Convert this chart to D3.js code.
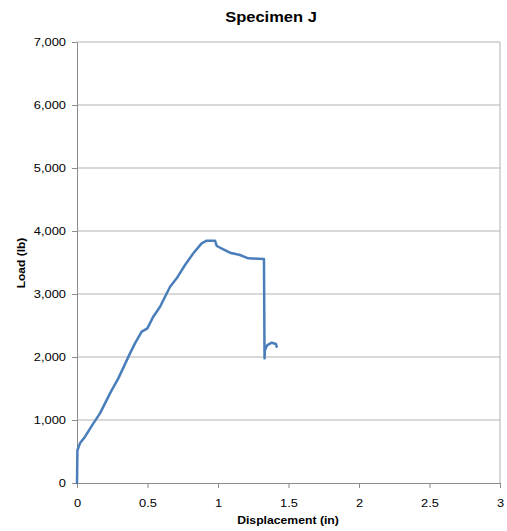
<!DOCTYPE html>
<html>
<head>
<meta charset="utf-8">
<script src="https://cdn.jsdelivr.net/npm/d3@7"></script>
<style>
  body { margin: 0; background: #fff; }
  svg { display: block; font-family: "Liberation Sans", Arial, sans-serif; }
</style>
</head>
<body>
<div id="chart"></div>
<script>
// Data
const displacement = [0, 0.003, 0.021, 0.057, 0.116, 0.163, 0.234, 0.293, 0.376, 0.411, 0.459, 0.499,
  0.541, 0.589, 0.660, 0.707, 0.766, 0.825, 0.884, 0.920, 0.979, 0.991, 1.038, 1.085, 1.156, 1.215,
  1.326, 1.330, 1.333, 1.350, 1.381, 1.411, 1.416];
const load = [0, 520, 630, 735, 947, 1106, 1423, 1661, 2058, 2217, 2402, 2455,
  2640, 2798, 3116, 3249, 3460, 3646, 3804, 3846, 3846, 3762, 3709, 3656, 3619, 3566,
  3556, 1979, 2111, 2190, 2227, 2206, 2164];
const xTicks = [0, 0.5, 1, 1.5, 2, 2.5, 3];
const yTicks = [0, 1000, 2000, 3000, 4000, 5000, 6000, 7000];

const width = 507;
const height = 531;
const margin = { top: 42, right: 7, bottom: 48, left: 77 };
const stretch = 1.17; // the reference text is a bit wider than plain Arial

const svg = d3.select("#chart")
  .append("svg")
  .attr("width", width)
  .attr("height", height);

const xScale = d3.scaleLinear().domain([0, 3]).range([margin.left, width - margin.right]);
const yScale = d3.scaleLinear().domain([0, 7000]).range([height - margin.bottom, margin.top]);

// gridlines
svg.append("g")
  .selectAll("line")
  .data(yTicks.slice(1))
  .join("line")
  .attr("x1", margin.left)
  .attr("x2", width - margin.right)
  .attr("y1", d => yScale(d))
  .attr("y2", d => yScale(d))
  .attr("stroke", "#b3b3b3")
  .attr("stroke-width", 1);

// right border
svg.append("line")
  .attr("x1", width - margin.right)
  .attr("x2", width - margin.right)
  .attr("y1", yScale(7000))
  .attr("y2", yScale(0))
  .attr("stroke", "#b3b3b3");

// axes
const xAxis = d3.axisBottom(xScale).tickValues(xTicks).tickSize(5).tickSizeOuter(0)
  .tickFormat(d => String(d));
const yAxis = d3.axisLeft(yScale).tickValues(yTicks).tickSize(5).tickSizeOuter(0)
  .tickFormat(d3.format(","));

const gx = svg.append("g")
  .attr("transform", `translate(0, ${yScale(0)})`)
  .call(xAxis);
const gy = svg.append("g")
  .attr("transform", `translate(${margin.left}, 0)`)
  .call(yAxis);

[gx, gy].forEach(g => {
  g.select(".domain").attr("stroke", "#8c8c8c");
  g.selectAll(".tick line").attr("stroke", "#8c8c8c");
  g.selectAll(".tick text")
    .attr("fill", "#000")
    .style("font-size", "11px")
    .style("font-family", "'Liberation Sans', Arial, sans-serif");
});
gx.selectAll(".tick text")
  .attr("y", 24)
  .attr("dy", 0)
  .attr("transform", `scale(${stretch},1)`);
gy.selectAll(".tick text")
  .attr("x", -11 / stretch)
  .attr("transform", `scale(${stretch},1)`);

// series line
const points = displacement.map((d, i) => [d, load[i]]);
const line = d3.line()
  .x(d => xScale(d[0]))
  .y(d => yScale(d[1]));

svg.append("path")
  .datum(points)
  .attr("fill", "none")
  .attr("stroke", "#4a7ebb")
  .attr("stroke-width", 2.5)
  .attr("stroke-linejoin", "round")
  .attr("stroke-linecap", "round")
  .attr("d", line);

// title
svg.append("text")
  .attr("transform", `translate(271, 22) scale(1.1,1)`)
  .attr("text-anchor", "middle")
  .style("font-size", "15px")
  .style("font-weight", "bold")
  .text("Specimen J");

// axis titles
svg.append("text")
  .attr("transform", `translate(288, 523.5) scale(1.11,1)`)
  .attr("text-anchor", "middle")
  .style("font-size", "11px")
  .style("font-weight", "bold")
  .text("Displacement (in)");

svg.append("text")
  .attr("transform", `translate(24.5, 263) rotate(-90) scale(1.09,1)`)
  .attr("text-anchor", "middle")
  .style("font-size", "11px")
  .style("font-weight", "bold")
  .text("Load (lb)");
</script>
</body>
</html>
